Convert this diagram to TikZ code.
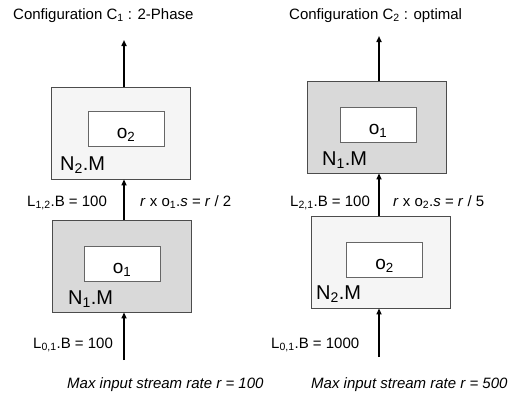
\documentclass[tikz,border=0pt]{standalone}
\usepackage{fontspec}
\setmainfont{Liberation Sans}
\usetikzlibrary{arrows.meta}
\definecolor{lightnode}{gray}{0.96}
\definecolor{darknode}{gray}{0.85}
\tikzset{
  mbox/.style={draw=black!70, line width=0.8pt, minimum width=139pt, minimum height=92pt, inner sep=0pt},
  opbox/.style={draw=black!60, fill=white, line width=0.8pt, minimum width=76pt, minimum height=35pt, inner sep=0pt, text height=22pt, text depth=3pt, font=\fontsize{19}{22}\selectfont},
  stream/.style={line width=1.8pt, -{Triangle[length=6pt,width=5pt]}},
  lbl/.style={anchor=base west, inner sep=0pt, font=\fontsize{15}{18}\selectfont},
  mname/.style={anchor=base west, inner sep=0pt, font=\fontsize{20}{24}\selectfont}
}
\begin{document}
\begin{tikzpicture}[x=1pt,y=-1pt]
\useasboundingbox (0,0) rectangle (526,399);

% configuration C1
\node[lbl] (titlePH) at (13,19) {Configuration C\textsubscript{1} : 2-Phase};
\node[mbox, fill=lightnode] (N2PH) at (121,133) {};
\node[opbox] (o2PH) at (126,128.5) {o\textsubscript{2}};
\node[mname] (N2namePH) at (60,170) {N\textsubscript{2}.M};
\node[mbox, fill=darknode] (N1PH) at (122,266) {};
\node[opbox] (o1PH) at (122,264) {o\textsubscript{1}};
\node[mname] (N1namePH) at (68,304) {N\textsubscript{1}.M};
\node[lbl] (LinkPH) at (27,206.5) {L\textsubscript{1,2}.B = 100};
\node[lbl] (selPH) at (140,206.5) {\textit{r} x o\textsubscript{1}.\textit{s} = \textit{r} / 2};
\node[lbl] (LinPH) at (33,348) {L\textsubscript{0,1}.B = 100};
\node[lbl] (ratePH) at (67,388) {\textit{Max input stream rate r = 100}};
\coordinate (outPH) at (124,40);
\coordinate (inPH) at (124,360);
\draw[stream] (N2PH.north -| outPH) -- (outPH);
\draw[stream] (N1PH.north -| outPH) -- (N2PH.south -| outPH);
\draw[stream] (inPH) -- (N1PH.south -| inPH);

% configuration C2
\node[lbl] (titleOPT) at (289,19) {Configuration C\textsubscript{2} : optimal};
\node[mbox, fill=darknode] (N1OPT) at (377,127) {};
\node[opbox] (o1OPT) at (378,124.5) {o\textsubscript{1}};
\node[mname] (N1nameOPT) at (322,165) {N\textsubscript{1}.M};
\node[mbox, fill=lightnode] (N2OPT) at (380.5,262) {};
\node[opbox] (o2OPT) at (384.5,260) {o\textsubscript{2}};
\node[mname] (N2nameOPT) at (316,299) {N\textsubscript{2}.M};
\node[lbl] (LinkOPT) at (290,206.5) {L\textsubscript{2,1}.B = 100};
\node[lbl] (selOPT) at (393,206.5) {\textit{r} x o\textsubscript{2}.\textit{s} = \textit{r} / 5};
\node[lbl] (LinOPT) at (271,348) {L\textsubscript{0,1}.B = 1000};
\node[lbl] (rateOPT) at (311,388) {\textit{Max input stream rate r = 500}};
\coordinate (outOPT) at (379,36);
\coordinate (inOPT) at (379,357);
\draw[stream] (N1OPT.north -| outOPT) -- (outOPT);
\draw[stream] (N2OPT.north -| outOPT) -- (N1OPT.south -| outOPT);
\draw[stream] (inOPT) -- (N2OPT.south -| inOPT);
\end{tikzpicture}
\end{document}
